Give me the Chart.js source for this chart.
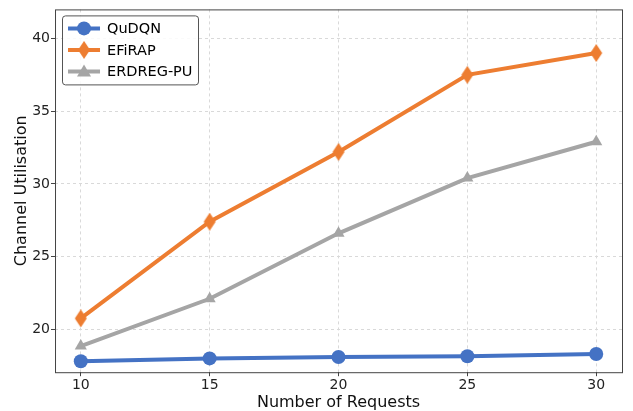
<!DOCTYPE html>
<html>
<head>
<meta charset="utf-8">
<script src="https://cdn.jsdelivr.net/npm/chart.js@4/dist/chart.umd.min.js"></script>
<style>
  html, body { margin: 0; padding: 0; background: #fff; }
  #wrap { width: 633px; height: 411px; }
</style>
</head>
<body>
<div id="wrap"><canvas id="chart"></canvas></div>
<script>
// Data
const requests = [10, 15, 20, 25, 30];
const quDQN = [17.8, 18.0, 18.1, 18.15, 18.3];
const efiRAP = [20.75, 27.4, 32.2, 37.5, 39.0];
const erdregPU = [18.85, 22.1, 26.6, 30.4, 32.9];
const yTicks = [20, 25, 30, 35, 40];

const FONT = "'DejaVu Sans', sans-serif";

// thin diamond marker like matplotlib 'd'
function makeDiamond(color) {
  const c = document.createElement("canvas");
  c.width = 14; c.height = 18;
  const g = c.getContext("2d");
  g.fillStyle = color;
  g.beginPath();
  g.moveTo(7, 0); g.lineTo(13, 9); g.lineTo(7, 18); g.lineTo(1, 9);
  g.closePath(); g.fill();
  return c;
}

const seriesList = [
  { label: "QuDQN", data: quDQN, color: "#4472C4", style: "circle" },
  { label: "EFiRAP", data: efiRAP, color: "#ED7D31", style: makeDiamond("#ED7D31") },
  { label: "ERDREG-PU", data: erdregPU, color: "#A5A5A5", style: "triangle" }
];

const datasets = seriesList.map(s => ({
  label: s.label,
  data: requests.map((x, i) => ({ x: x, y: s.data[i] })),
  borderColor: s.color,
  backgroundColor: s.color,
  borderWidth: 4,
  pointStyle: s.style,
  pointRadius: 7,
  pointBorderWidth: 0,
  tension: 0
}));

// frame + legend drawn inside the plot
const framePlugin = {
  id: "frame",
  afterDraw(chart) {
    const { ctx, chartArea: a } = chart;
    ctx.save();
    ctx.strokeStyle = "#444";
    ctx.lineWidth = 1;
    ctx.strokeRect(a.left + 0.5, a.top + 0.5, a.right - a.left, a.bottom - a.top);

    // legend box
    const bx = a.left + 7, by = a.top + 6, bw = 136, bh = 69;
    ctx.fillStyle = "rgba(255,255,255,0.85)";
    ctx.strokeStyle = "#555";
    ctx.beginPath();
    ctx.roundRect(bx + 0.5, by + 0.5, bw, bh, 3);
    ctx.fill(); ctx.stroke();

    seriesList.forEach((s, i) => {
      const y = by + 13 + i * 21.5;
      ctx.strokeStyle = s.color;
      ctx.lineWidth = 4;
      ctx.beginPath();
      ctx.moveTo(bx + 6, y); ctx.lineTo(bx + 38, y);
      ctx.stroke();
      ctx.fillStyle = s.color;
      const cx = bx + 22;
      if (s.style === "circle") {
        ctx.beginPath(); ctx.arc(cx, y, 7, 0, Math.PI * 2); ctx.fill();
      } else if (s.style === "triangle") {
        ctx.beginPath();
        ctx.moveTo(cx, y - 7); ctx.lineTo(cx + 7, y + 5); ctx.lineTo(cx - 7, y + 5);
        ctx.closePath(); ctx.fill();
      } else {
        ctx.drawImage(s.style, cx - 7, y - 9);
      }
      ctx.fillStyle = "#000";
      ctx.font = "14.5px " + FONT;
      ctx.textBaseline = "middle";
      ctx.textAlign = "left";
      ctx.fillText(s.label, bx + 45, y + 1);
    });
    ctx.restore();
  }
};

new Chart(document.getElementById("chart"), {
  type: "line",
  data: { datasets },
  plugins: [framePlugin],
  options: {
    responsive: true,
    maintainAspectRatio: false,
    animation: false,
    layout: { padding: { top: 8, right: 11, left: 12, bottom: 0 } },
    plugins: { legend: { display: false }, tooltip: { enabled: false } },
    scales: {
      x: {
        type: "linear",
        min: 9, max: 31,
        afterBuildTicks: ax => { ax.ticks = requests.map(v => ({ value: v })); },
        grid: { color: "#d9d9d9", drawTicks: true, tickLength: 4, tickColor: "#444" },
        border: { display: false, dash: [3, 3] },
        ticks: { color: "#222", font: { family: FONT, size: 14 }, padding: 1, maxRotation: 0 },
        title: { display: true, text: "Number of Requests", color: "#111", font: { family: FONT, size: 16, lineHeight: 1.0 }, padding: { top: 0, bottom: 0 } }
      },
      y: {
        min: 17.05, max: 42,
        afterBuildTicks: ax => { ax.ticks = yTicks.map(v => ({ value: v })); },
        grid: { color: "#d9d9d9", drawTicks: true, tickLength: 4, tickColor: "#444" },
        border: { display: false, dash: [3, 3] },
        ticks: { color: "#222", font: { family: FONT, size: 14 }, padding: 1 },
        title: { display: true, text: "Channel Utilisation", color: "#111", font: { family: FONT, size: 16 }, padding: { top: 0, bottom: 0 } }
      }
    }
  }
});
</script>
</body>
</html>
